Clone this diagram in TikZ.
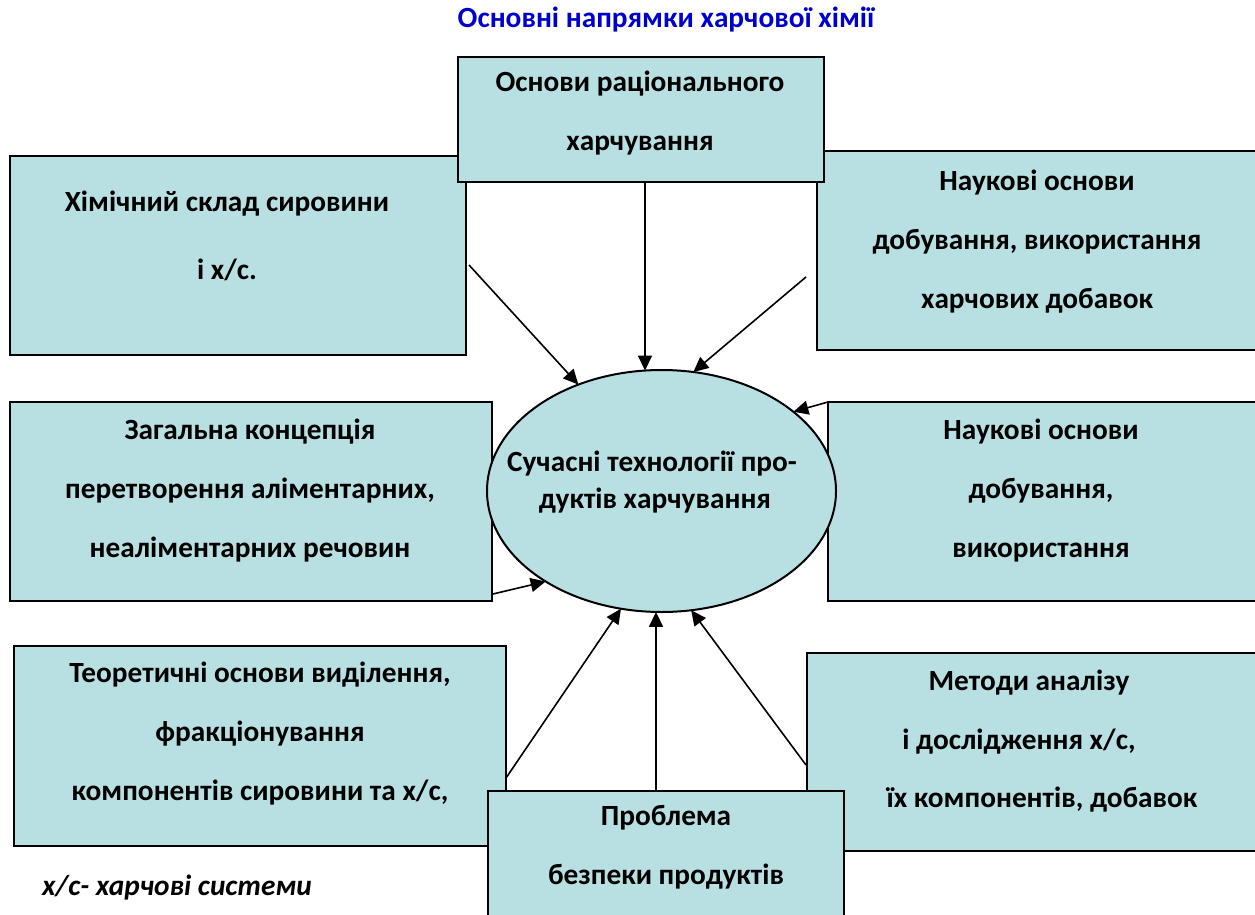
\documentclass[tikz,border=0pt]{standalone}
\usepackage{fontspec}
\setmainfont{Carlito}
\usetikzlibrary{shapes.geometric,arrows.meta}
\definecolor{boxfill}{RGB}{184,223,226}
\definecolor{titleblue}{RGB}{0,0,204}
\tikzset{
  box/.style={draw=black, line width=2pt, fill=boxfill, rectangle, inner sep=0pt, outer sep=0pt},
  txt/.style={align=center, inner sep=0pt, font=\fontsize{29.3}{59}\selectfont\bfseries},
  arr/.style={draw=black, line width=1.6pt, -{Triangle[length=15pt,width=14pt]}},
}
\begin{document}
\begin{tikzpicture}[x=1pt,y=-1pt]
\useasboundingbox (0,0) rectangle (1255,915);
\clip (0,0) rectangle (1255,915);
% title
\node[txt, text=titleblue] (title) at (666,20) {Основні напрямки харчової хімії};
% boxes
\node[box, minimum width=456pt, minimum height=199pt] (lt) at (238,255.5) {};
\node[box, minimum width=445pt, minimum height=199pt] (rt) at (1039.5,250.5) {};
\node[box, minimum width=366pt, minimum height=125pt] (top) at (641,119.5) {};
\node[box, minimum width=482pt, minimum height=199pt] (lm) at (251,501.5) {};
\node[box, minimum width=434pt, minimum height=199pt] (rm) at (1045,501.5) {};
\node[box, ellipse, minimum width=349pt, minimum height=242pt] (ell) at (661.5,491) {};
\node[box, minimum width=492pt, minimum height=200pt] (lb) at (260,746) {};
\node[box, minimum width=455pt, minimum height=198pt] (rb) at (1034.5,752) {};
\node[box, minimum width=356pt, minimum height=134pt] (bot) at (666,858) {};
% texts
\node[txt] (ttop) at (640,113) {Основи раціонального\\харчування};
\node[txt, font=\fontsize{29.3}{68}\selectfont\bfseries] (tlt) at (227,236) {Хімічний склад сировини\\і х/с.};
\node[txt] (trt) at (1037,242) {Наукові основи\\добування, використання\\харчових добавок};
\node[txt] (tlm) at (250,491) {Загальна концепція\\перетворення аліментарних,\\неаліментарних речовин};
\node[txt] (trm) at (1041,491) {Наукові основи\\добування,\\використання};
\node[txt] (tlb) at (260,734) {Теоретичні основи виділення,\\фракціонування\\компонентів сировини та х/с,};
\node[txt] (trb1) at (1029,683) {Методи аналізу};
\node[txt] (trb2) at (1019,742) {і дослідження х/с,};
\node[txt] (trb3) at (1042,800) {їх компонентів, добавок};
\node[txt] (tbot) at (666,847) {Проблема\\безпеки продуктів};
\node[txt] (te1) at (652,464) {Сучасні технології про-};
\node[txt] (te2) at (655,501) {дуктів харчування};
\node[txt, font=\fontsize{29.3}{30}\selectfont\bfseries\itshape] (note) at (177,888) {х/с- харчові системи};
% arrow start coordinates
\coordinate (a1) at (469,265);
\coordinate (a2) at (645,182);
\coordinate (a3) at (806,277);
\coordinate (a5) at (493,594);
\coordinate (a6) at (506,778);
\coordinate (a7) at (656,791);
\coordinate (a8) at (806,765);
% arrows
\draw[arr] (a1) -- (ell.128.4);
\draw[arr] (a2) -- (ell.98.5 -| a2);
\draw[arr] (a3) -- (ell.75.3);
\draw[arr] (rm.north west) -- (ell.31.9);
\draw[arr] (a5) -- (ell.218.3);
\draw[arr] (a6) -- (ell.251.9);
\draw[arr] (a7) -- (ell.267.4 -| a7);
\draw[arr] (a8) -- (ell.284.4);
\end{tikzpicture}
\end{document}
